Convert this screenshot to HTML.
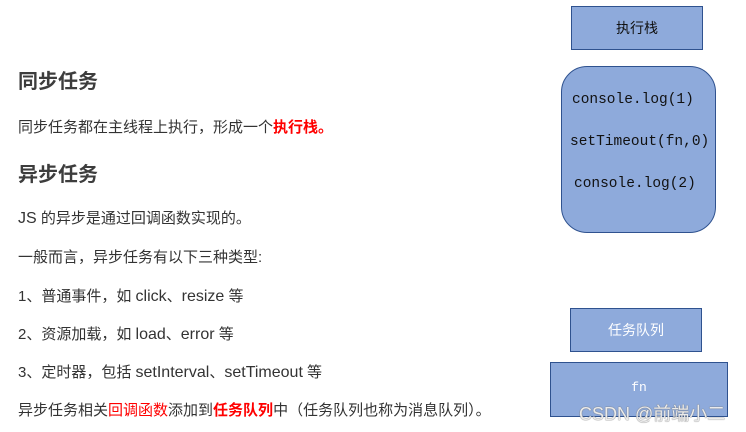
<!DOCTYPE html>
<html><head><meta charset="utf-8"><style>
body{margin:0;width:746px;height:432px;background:#fff;position:relative;overflow:hidden;font-family:"Liberation Sans","Noto Sans CJK SC",sans-serif;color:#333}
.t{position:absolute;left:18px;font-size:15px;white-space:nowrap;line-height:20px}
.l{font-size:16px}
.h{position:absolute;left:18px;font-size:20px;font-weight:bold;color:#3d3d3d;line-height:24px}
.r{color:#f00;font-weight:bold}
.rn{color:#f00}
.b{position:absolute;background:#8eaadb;border:1px solid #2f528f;box-sizing:border-box;display:flex;align-items:center;justify-content:center}
.m{position:absolute;font-family:"Liberation Mono",monospace;font-size:14.5px;color:#111;white-space:nowrap}
</style></head><body>
<div class="h" style="top:70px">同步任务</div>
<div class="t" style="top:118px">同步任务都在主线程上执行，形成一个<span class="r">执行栈。</span></div>
<div class="h" style="top:163px">异步任务</div>
<div class="t" style="top:209px"><span class="l">JS</span> 的异步是通过回调函数实现的。</div>
<div class="t" style="top:248px">一般而言，异步任务有以下三种类型:</div>
<div class="t" style="top:287px">1、普通事件，如 <span class="l">click</span>、<span class="l">resize</span> 等</div>
<div class="t" style="top:325px">2、资源加载，如 <span class="l">load</span>、<span class="l">error</span> 等</div>
<div class="t" style="top:363px">3、定时器，包括 <span class="l">setInterval</span>、<span class="l">setTimeout</span> 等</div>
<div class="t" style="top:401px">异步任务相关<span class="rn">回调函数</span>添加到<span class="r">任务队列</span>中（任务队列也称为消息队列）。</div>

<div class="b" style="left:571px;top:6px;width:132px;height:44px;font-size:14px;color:#111">执行栈</div>
<div class="b" style="left:561px;top:66px;width:155px;height:167px;border-radius:26px"></div>
<div class="m" style="left:572px;top:92px">console.log(1)</div>
<div class="m" style="left:570px;top:134px">setTimeout(fn,0)</div>
<div class="m" style="left:574px;top:176px">console.log(2)</div>
<div class="b" style="left:570px;top:308px;width:132px;height:44px;font-size:14px;color:#fff">任务队列</div>
<div class="b" style="left:550px;top:362px;width:178px;height:55px;font-family:'Liberation Mono',monospace;font-size:13px;color:#fff;padding-bottom:4px">fn</div>
<div style="position:absolute;left:579px;top:400px;font-size:18px;color:rgba(255,255,255,0.85);text-shadow:0 0 1px #777,0 0 1px #777;white-space:nowrap">CSDN @前端小二</div>
</body></html>
